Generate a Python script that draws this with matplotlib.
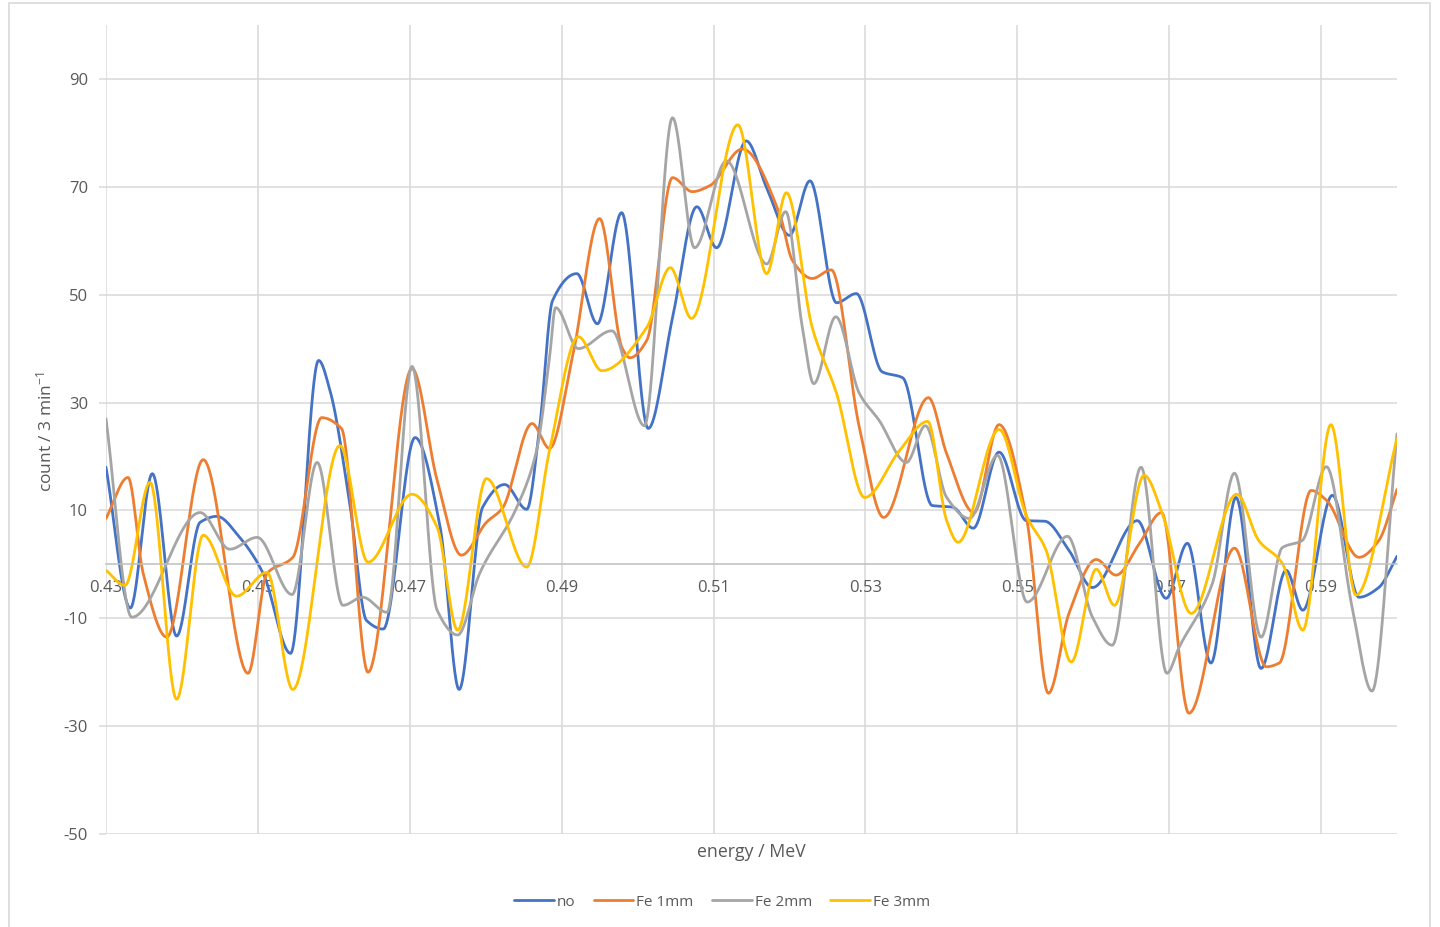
import numpy as np
import matplotlib
matplotlib.use('Agg')
import matplotlib.pyplot as plt
from matplotlib.patches import Rectangle

plt.rcParams['font.family'] = ['Open Sans', 'DejaVu Sans']
plt.rcParams['mathtext.fontset'] = 'custom'
plt.rcParams['mathtext.rm'] = 'Open Sans'
plt.rcParams['mathtext.it'] = 'Open Sans'
plt.rcParams['axes.unicode_minus'] = False

# points (energy in MeV, count / 3 min^-1)
x_no = [0.4300, 0.4332, 0.4361, 0.4393, 0.4424, 0.4446, 0.4476, 0.4507, 0.4543, 0.4580,
        0.4595, 0.4621, 0.4643, 0.4665, 0.4707, 0.4740, 0.4765, 0.4796, 0.4825, 0.4854,
        0.4871, 0.4888, 0.4920, 0.4947, 0.4979, 0.5014, 0.5046, 0.5078, 0.5104, 0.5143,
        0.5170, 0.5200, 0.5227, 0.5262, 0.5288, 0.5322, 0.5349, 0.5388, 0.5415, 0.5442,
        0.5476, 0.5512, 0.5536, 0.5568, 0.5599, 0.5658, 0.5696, 0.5724, 0.5755, 0.5788,
        0.5821, 0.5854, 0.5876, 0.5915, 0.5950, 0.5976, 0.6000]
y_no = [18, -8.1, 16.8, -13.3, 7.8, 8.9, 5.0, -1.7, -16.5, 37.8,
        32.2, 11.3, -10.4, -12, 23.5, 6.9, -23.2, 10.6, 14.8, 10.2,
        25.4, 48.9, 53.9, 44.6, 65.2, 25.2, 45.7, 66.3, 58.7, 78.5,
        69.8, 61, 71.1, 48.5, 50.2, 35.7, 34.6, 10.9, 10.6, 6.7,
        20.8, 8.1, 8.0, 2.6, -4.3, 8.1, -6.3, 3.9, -18.3, 12.4,
        -19.3, -1.1, -8.5, 12.8, -6.1, -4.3, 1.5]

x_fe1 = [0.4300, 0.4329, 0.4349, 0.4380, 0.4428, 0.4487, 0.4512, 0.4546, 0.4584, 0.4610,
         0.4645, 0.4703, 0.4736, 0.4768, 0.4801, 0.4822, 0.4861, 0.4884, 0.4915, 0.4950,
         0.4980, 0.4990, 0.5012, 0.5046, 0.5072, 0.5095, 0.5138, 0.5187, 0.5204, 0.5230,
         0.5255, 0.5292, 0.5324, 0.5383, 0.5407, 0.5443, 0.5476, 0.5512, 0.5541, 0.5568,
         0.5604, 0.5630, 0.5661, 0.5690, 0.5726, 0.5786, 0.5828, 0.5845, 0.5887, 0.5907,
         0.5950, 0.5976, 0.6000]
y_fe1 = [8.5, 16.1, -1.7, -13.5, 19.4, -20.2, -1.7, 1.3, 27.2, 25.2,
         -20, 36.3, 15.6, 1.7, 7.8, 10.4, 26.1, 21.5, 39, 64.1,
         40, 38.3, 41.5, 71.7, 69.1, 70.2, 77, 65, 56.3, 53,
         54.6, 25.4, 8.7, 30.9, 20.5, 9.6, 25.9, 8.7, -23.9, -9.1,
         0.9, -2, 3.9, 9.6, -27.6, 3, -19, -18.3, 13.7, 11.9,
         1.3, 4.4, 13.9]

x_fe2 = [0.4300, 0.4334, 0.4424, 0.4463, 0.4499, 0.4545, 0.4578, 0.4612, 0.4638, 0.4670,
         0.4703, 0.4736, 0.4763, 0.4792, 0.4841, 0.4867, 0.4884, 0.4892, 0.4922, 0.4966,
         0.5009, 0.5046, 0.5075, 0.5117, 0.5170, 0.5195, 0.5217, 0.5232, 0.5261, 0.5292,
         0.5318, 0.5354, 0.5379, 0.5407, 0.5437, 0.5474, 0.5513, 0.5566, 0.5599, 0.5625,
         0.5663, 0.5697, 0.5713, 0.5757, 0.5786, 0.5821, 0.5849, 0.5875, 0.5907, 0.5941,
         0.5967, 0.6000]
y_fe2 = [27, -9.8, 9.6, 2.8, 5, -5.6, 18.9, -7.6, -6.1, -8.9,
         36.7, -8.5, -13.1, -1.7, 10.6, 21.1, 38.3, 47.6, 40, 43.3,
         25.7, 82.8, 58.7, 74.8, 55.7, 65.4, 43.9, 33.5, 45.9, 31.7,
         26.7, 18.9, 25.7, 12.4, 8.5, 20.2, -7, 5.2, -9.8, -15,
         18, -20.2, -15.4, -3.5, 16.9, -13.5, 3.1, 4.4, 18.1, -8,
         -23.5, 24.2]

x_fe3 = [0.4300, 0.4325, 0.4358, 0.4393, 0.4428, 0.4472, 0.4512, 0.4546, 0.4608, 0.4645,
         0.4703, 0.4736, 0.4763, 0.4801, 0.4854, 0.4884, 0.4922, 0.4953, 0.5012, 0.5043,
         0.5071, 0.5132, 0.5170, 0.5196, 0.5230, 0.5262, 0.5299, 0.5345, 0.5382, 0.5407,
         0.5422, 0.5476, 0.5512, 0.5538, 0.5571, 0.5604, 0.5628, 0.5667, 0.5691, 0.5729,
         0.5789, 0.5818, 0.5849, 0.5876, 0.5913, 0.5946, 0.6000]
y_fe3 = [-1.1, -3.9, 15.2, -25, 5.4, -5.9, -1.5, -23.2, 22, 0.4,
         13, 6.9, -12.2, 15.9, -0.5, 21.1, 42.2, 35.9, 43.9, 55,
         45.6, 81.5, 53.9, 68.9, 43.9, 31.7, 12.4, 21.1, 26.5, 8.1,
         4.1, 25, 9, 2.6, -18.1, -0.9, -7.6, 16.5, 9.4, -9.1,
         13, 4.4, 0.2, -12.2, 25.9, -5.7, 23.3]

series = [('no', x_no, y_no, '#4472C4'),
          ('Fe 1mm', x_fe1, y_fe1, '#ED7D31'),
          ('Fe 2mm', x_fe2, y_fe2, '#A5A5A5'),
          ('Fe 3mm', x_fe3, y_fe3, '#FFC000')]


def smooth(x, y, n=2000):
    # monotone cubic (pchip) so the curve is smooth like Excel's smoothed lines
    x = np.asarray(x, float)
    y = np.asarray(y, float)
    h = np.diff(x)
    d = np.diff(y) / h
    m = np.zeros_like(y)
    for k in range(1, len(x) - 1):
        if d[k - 1] * d[k] > 0:
            w1 = 2 * h[k] + h[k - 1]
            w2 = h[k] + 2 * h[k - 1]
            m[k] = (w1 + w2) / (w1 / d[k - 1] + w2 / d[k])
    m[0] = d[0]
    m[-1] = d[-1]
    xs = np.linspace(x[0], x[-1], n)
    i = np.clip(np.searchsorted(x, xs) - 1, 0, len(x) - 2)
    t = (xs - x[i]) / h[i]
    h00 = 2 * t**3 - 3 * t**2 + 1
    h10 = t**3 - 2 * t**2 + t
    h01 = -2 * t**3 + 3 * t**2
    h11 = t**3 - t**2
    ys = h00 * y[i] + h10 * h[i] * m[i] + h01 * y[i + 1] + h11 * h[i] * m[i + 1]
    return xs, ys


fig = plt.figure(figsize=(14.4, 9.27), dpi=100)
ax = fig.add_axes([106 / 1440, 1 - 834 / 927, (1397 - 106) / 1440, (834 - 25) / 927])

for name, xv, yv, col in series:
    xs, ys = smooth(xv, yv)
    ax.plot(xs, ys, color=col, lw=2.0, label=name, solid_capstyle='round')

ax.set_xlim(0.43, 0.60)
ax.set_ylim(-50, 100)
ax.set_xticks(np.arange(0.43, 0.5901, 0.02))
ax.set_xticklabels(['%.2f' % v for v in np.arange(0.43, 0.5901, 0.02)])
ax.set_yticks(np.arange(-50, 91, 20))
ax.grid(True, color='#d9d9d9', lw=1.1)
ax.set_axisbelow(True)

for s in ['top', 'right', 'left']:
    ax.spines[s].set_visible(False)
ax.spines['bottom'].set_position(('data', 0))
ax.spines['bottom'].set_color('#bfbfbf')
ax.spines['bottom'].set_linewidth(1.1)
ax.tick_params(axis='x', length=0, pad=11, labelsize=12, labelcolor='#595959')
ax.tick_params(axis='y', length=5, color='#d9d9d9', width=1.1, pad=8,
               labelsize=12, labelcolor='#595959')

fig.text(45 / 1440, 1 - 432 / 927, 'count / 3 min$^{-1}$', rotation=90,
         ha='center', va='center', fontsize=12.5, color='#595959')
fig.text(751 / 1440, 1 - 852 / 927, 'energy / MeV', ha='center', va='center',
         fontsize=12.8, color='#595959')

leg = fig.legend(loc='center', bbox_to_anchor=(722 / 1440, 1 - 902 / 927), ncol=4,
                 frameon=False, fontsize=11, handlelength=2.6, columnspacing=1.2,
                 handletextpad=0.2)
for t in leg.get_texts():
    t.set_color('#595959')

fig.patches.append(Rectangle((9 / 1440, -0.01), (1430 - 9) / 1440, 1.01 - 3 / 927,
                             transform=fig.transFigure, fill=False,
                             edgecolor='#d9d9d9', lw=1.2))

fig.savefig('out.png', dpi=100)
